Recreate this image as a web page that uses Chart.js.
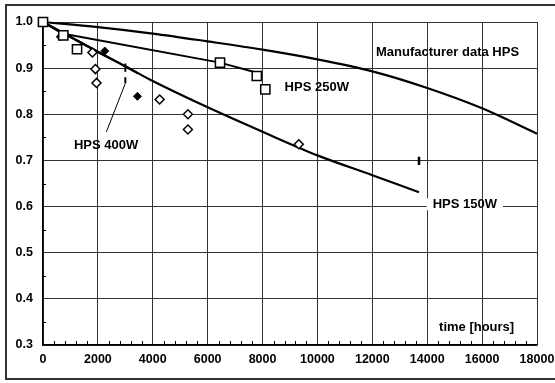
<!DOCTYPE html>
<html>
<head>
<meta charset="utf-8">
<script src="https://cdn.jsdelivr.net/npm/chart.js@4.4.0/dist/chart.umd.min.js"></script>
<style>
  html, body { margin: 0; padding: 0; background: #fff; overflow: hidden; }
  #wrap { width: 555px; height: 383px; }
</style>
</head>
<body>
<div id="wrap"><canvas id="chart" width="555" height="383"></canvas></div>
<script>
// measured points (hours, relative lumen output)
const squareHours = [0, 740, 1240, 6450, 7790, 8100];
const squareValues = [1.0, 0.971, 0.941, 0.912, 0.883, 0.854];

const filledDiamondHours = [630, 2250, 3440];
const filledDiamondValues = [0.968, 0.937, 0.839];

const openDiamondHours = [1800, 1910, 1950, 4250, 5280, 5280, 9320];
const openDiamondValues = [0.934, 0.898, 0.868, 0.832, 0.800, 0.767, 0.735];

// fitted / manufacturer curves
const manufHours = [0, 2000, 4000, 6000, 8000, 10000, 12000, 14000, 16000, 18000];
const manufValues = [1.0, 0.989, 0.975, 0.958, 0.940, 0.919, 0.893, 0.857, 0.813, 0.758];

const hps250Hours = [0, 700, 6450, 7800];
const hps250Values = [1.0, 0.975, 0.912, 0.890];

const hps400Hours = [0, 3450];
const hps400Values = [1.0, 0.889];

const hps150Hours = [0, 2000, 3000, 4000, 6000, 8000, 10000, 12000, 13700];
const hps150Values = [1.0, 0.935, 0.904, 0.872, 0.815, 0.762, 0.711, 0.668, 0.631];

// small marks and the leader line of the 400W label
const leaderHours = [3000, 2310];
const leaderValues = [0.867, 0.762];
const markAHours = [3000, 3000];
const markAValues = [0.910, 0.892];
const markBHours = [3000, 3000];
const markBValues = [0.880, 0.867];
const markCHours = [13700, 13700];
const markCValues = [0.708, 0.690];

// text labels
const labelTexts = ['Manufacturer data HPS', 'HPS 250W', 'HPS 400W', 'HPS 150W', 'time [hours]'];
const labelHours = [14740, 9975, 2300, 15370, 15800];
const labelValues = [0.934, 0.859, 0.733, 0.605, 0.339];
const labelBoxed = [false, false, false, true, false];

const xTicks = [0, 2000, 4000, 6000, 8000, 10000, 12000, 14000, 16000, 18000];
const yTicks = [0.3, 0.4, 0.5, 0.6, 0.7, 0.8, 0.9, 1.0];

const pts = (xs, ys) => xs.map((x, i) => ({ x: x, y: ys[i] }));
const FAMILY = '"Liberation Sans", Arial, sans-serif';

const lineSet = (xs, ys, w, smooth) => ({
  type: 'line',
  data: pts(xs, ys),
  borderColor: '#000',
  borderWidth: w,
  pointRadius: 0,
  fill: false,
  cubicInterpolationMode: smooth ? 'monotone' : 'default',
  tension: 0,
  clip: false,
});

// outer frame, open on the right like the original (cut off)
const frame = {
  id: 'frame',
  afterDraw(chart) {
    const ctx = chart.ctx;
    ctx.save();
    ctx.strokeStyle = '#333';
    ctx.lineWidth = 2;
    ctx.beginPath();
    ctx.moveTo(555, 5);
    ctx.lineTo(6, 5);
    ctx.lineTo(6, 379);
    ctx.lineTo(555, 379);
    ctx.stroke();
    ctx.restore();
  },
};

const minorTicks = {
  id: 'minorTicks',
  afterDatasetsDraw(chart) {
    const ctx = chart.ctx;
    const xs = chart.scales.x, ys = chart.scales.y;
    const a = chart.chartArea;
    ctx.save();
    ctx.strokeStyle = '#000';
    ctx.lineWidth = 1;
    ctx.beginPath();
    for (let h = 400; h < 18000; h += 400) {
      if (h % 2000 === 0) continue;
      const px = Math.round(xs.getPixelForValue(h)) + 0.5;
      ctx.moveTo(px, a.bottom);
      ctx.lineTo(px, a.bottom - 4);
    }
    for (let v = 0.35; v < 1.0; v += 0.1) {
      const py = Math.round(ys.getPixelForValue(v)) + 0.5;
      ctx.moveTo(a.left, py);
      ctx.lineTo(a.left + 3, py);
    }
    ctx.stroke();
    ctx.restore();
  },
};

const textLabels = {
  id: 'textLabels',
  afterDatasetsDraw(chart) {
    const ctx = chart.ctx;
    const xs = chart.scales.x, ys = chart.scales.y;
    ctx.save();
    ctx.font = 'bold 13px ' + FAMILY;
    ctx.textAlign = 'center';
    ctx.textBaseline = 'middle';
    labelTexts.forEach((t, i) => {
      const px = xs.getPixelForValue(labelHours[i]);
      const py = ys.getPixelForValue(labelValues[i]);
      if (labelBoxed[i]) {
        const w = ctx.measureText(t).width + 12;
        ctx.fillStyle = '#fff';
        ctx.fillRect(px - w / 2, py - 6, w, 12);
        // vertical gridline shows through the box
        const gx = Math.round(xs.getPixelForValue(16000)) + 0.5;
        ctx.strokeStyle = '#333';
        ctx.lineWidth = 1;
        ctx.beginPath();
        ctx.moveTo(gx, py - 6);
        ctx.lineTo(gx, py + 6);
        ctx.stroke();
      }
      ctx.fillStyle = '#000';
      ctx.fillText(t, px, py);
    });
    ctx.restore();
  },
};

new Chart(document.getElementById('chart'), {
  type: 'scatter',
  data: {
    datasets: [
      {
        data: pts(squareHours, squareValues),
        pointStyle: 'rect',
        pointRadius: 6.5,
        pointBackgroundColor: '#fff',
        pointBorderColor: '#000',
        pointBorderWidth: 1.5,
        showLine: false,
        clip: false,
      },
      {
        data: pts(openDiamondHours, openDiamondValues),
        pointStyle: 'rectRot',
        pointRadius: 4.5,
        pointBackgroundColor: '#fff',
        pointBorderColor: '#000',
        pointBorderWidth: 1.5,
        showLine: false,
        clip: false,
      },
      {
        data: pts(filledDiamondHours, filledDiamondValues),
        pointStyle: 'rectRot',
        pointRadius: 4,
        pointBackgroundColor: '#000',
        pointBorderColor: '#000',
        pointBorderWidth: 1,
        showLine: false,
        clip: false,
      },
      lineSet(manufHours, manufValues, 2.2, true),
      lineSet(hps250Hours, hps250Values, 2, false),
      lineSet(hps400Hours, hps400Values, 2, false),
      lineSet(hps150Hours, hps150Values, 2.2, true),
      lineSet(leaderHours, leaderValues, 1, false),
      lineSet(markAHours, markAValues, 2, false),
      lineSet(markBHours, markBValues, 2, false),
      lineSet(markCHours, markCValues, 2.5, false),
    ],
  },
  options: {
    responsive: false,
    animation: false,
    events: [],
    layout: { padding: { left: 0, right: 18, top: 22, bottom: 0 } },
    plugins: {
      legend: { display: false },
      tooltip: { enabled: false },
    },
    scales: {
      x: {
        type: 'linear',
        min: 0,
        max: 18000,
        afterBuildTicks: (s) => { s.ticks = xTicks.map((v) => ({ value: v })); },
        afterFit: (s) => { s.height = 38; s.paddingLeft = 0; s.paddingRight = 0; },
        ticks: {
          color: '#000',
          font: { family: FAMILY, size: 12.5, weight: 'bold' },
          padding: 7,
          maxRotation: 0,
          autoSkip: false,
          callback: (v) => String(v),
        },
        grid: { color: '#333', lineWidth: 1, drawTicks: false },
        border: { color: '#000', width: 1.5 },
      },
      y: {
        type: 'linear',
        min: 0.3,
        max: 1.0,
        afterBuildTicks: (s) => { s.ticks = yTicks.map((v) => ({ value: v })); },
        afterFit: (s) => { s.width = 43; s.paddingTop = 0; s.paddingBottom = 0; },
        ticks: {
          color: '#000',
          font: { family: FAMILY, size: 12.5, weight: 'bold' },
          padding: 10,
          autoSkip: false,
          callback: (v) => v.toFixed(1),
        },
        grid: { color: '#333', lineWidth: 1, drawTicks: false },
        border: { color: '#000', width: 1.5 },
      },
    },
  },
  plugins: [frame, minorTicks, textLabels],
});
</script>
</body>
</html>
